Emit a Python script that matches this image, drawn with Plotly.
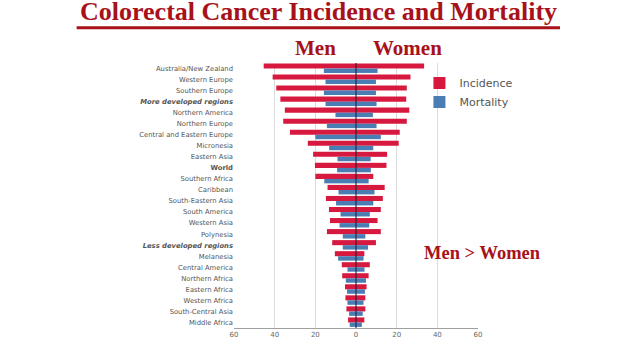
import plotly.graph_objects as go

regions = ["Australia/New Zealand", "Western Europe", "Southern Europe", "More developed regions",
           "Northern America", "Northern Europe", "Central and Eastern Europe", "Micronesia",
           "Eastern Asia", "World", "Southern Africa", "Caribbean", "South-Eastern Asia",
           "South America", "Western Asia", "Polynesia", "Less developed regions", "Melanesia",
           "Central America", "Northern Africa", "Eastern Africa", "Western Africa",
           "South-Central Asia", "Middle Africa"]
region_labels = ["Australia/New Zealand", "Western Europe", "Southern Europe",
                 "<b><i>More developed regions</i></b>",
                 "Northern America", "Northern Europe", "Central and Eastern Europe", "Micronesia",
                 "Eastern Asia", "<b>World</b>", "Southern Africa", "Caribbean", "South-Eastern Asia",
                 "South America", "Western Asia", "Polynesia", "<b><i>Less developed regions</i></b>",
                 "Melanesia", "Central America", "Northern Africa", "Eastern Africa", "Western Africa",
                 "South-Central Asia", "Middle Africa"]

incidence_men = [45.4, 41.0, 39.2, 37.2, 35.0, 35.8, 32.5, 23.7, 21.1, 20.2, 20.0, 14.0, 14.8,
                 13.3, 12.8, 14.3, 11.7, 10.4, 7.0, 6.8, 5.4, 5.2, 4.7, 3.9]
incidence_women = [33.5, 26.8, 25.0, 24.7, 26.2, 25.0, 21.5, 21.0, 15.3, 15.0, 8.5, 14.1, 13.2,
                   12.2, 10.6, 12.2, 9.8, 4.1, 6.8, 6.2, 5.2, 4.6, 4.6, 4.1]
mortality_men = [15.8, 15.0, 15.8, 15.0, 10.1, 14.3, 20.0, 13.2, 9.1, 9.3, 15.6, 8.6, 9.8,
                 7.6, 8.1, 6.5, 6.5, 8.8, 4.2, 5.0, 4.4, 4.2, 3.4, 3.1]
mortality_women = [10.6, 9.8, 9.8, 10.1, 8.3, 10.1, 12.2, 8.5, 7.2, 7.3, 6.2, 9.1, 8.5,
                   6.8, 6.5, 4.6, 5.9, 3.7, 4.2, 4.9, 4.4, 3.7, 3.3, 2.9]

tick_vals = [-60, -40, -20, 0, 20, 40, 60]
tick_text = ["60", "40", "20", "0", "20", "40", "60"]

RED = "#D7193F"
BLUE = "#4A7DB3"
DARKRED = "#A8111A"

fig = go.Figure()
fig.add_trace(go.Bar(y=regions, x=[-v for v in incidence_men], orientation="h",
                     marker=dict(color=RED, line=dict(width=0)), width=0.46, offset=-0.46,
                     name="Incidence", legendgroup="inc", showlegend=True))
fig.add_trace(go.Bar(y=regions, x=incidence_women, orientation="h",
                     marker=dict(color=RED, line=dict(width=0)), width=0.46, offset=-0.46,
                     name="Incidence", legendgroup="inc", showlegend=False))
fig.add_trace(go.Bar(y=regions, x=[-v for v in mortality_men], orientation="h",
                     marker=dict(color=BLUE, line=dict(width=0)), width=0.4, offset=0.0,
                     name="Mortality", legendgroup="mort", showlegend=True))
fig.add_trace(go.Bar(y=regions, x=mortality_women, orientation="h",
                     marker=dict(color=BLUE, line=dict(width=0)), width=0.4, offset=0.0,
                     name="Mortality", legendgroup="mort", showlegend=False))

fig.update_layout(
    width=638, height=359,
    margin=dict(l=234, r=160, t=63, b=31),
    barmode="overlay",
    plot_bgcolor="white", paper_bgcolor="white",
    showlegend=True,
    legend=dict(x=0.76, y=0.979, xanchor="left", yanchor="top", bgcolor="rgba(0,0,0,0)",
                font=dict(family="DejaVu Sans", size=11, color="#555555"),
                itemwidth=30, tracegroupgap=0),
    xaxis=dict(range=[-60, 60], tickvals=tick_vals, ticktext=tick_text,
               showgrid=True, gridcolor="#DCDCDC", gridwidth=1, zeroline=False,
               showline=True, linecolor="#A0A0A0", linewidth=1, ticks="",
               tickfont=dict(family="DejaVu Sans", size=7, color="#666666")),
    yaxis=dict(categoryorder="array", categoryarray=regions, autorange="reversed",
               tickvals=regions, ticktext=region_labels, range=[23.5, -0.5],
               showgrid=False, zeroline=False, showline=False, ticks="",
               tickfont=dict(family="DejaVu Sans", size=6.8, color="#555555")),
    shapes=[
        dict(type="line", xref="x", yref="paper", x0=0, x1=0, y0=0, y1=1,
             line=dict(color="#1B1B3A", width=1), layer="above"),
        dict(type="line", xref="paper", yref="paper", x0=-0.645, x1=1.336, y0=1.133, y1=1.133,
             line=dict(color=DARKRED, width=3), layer="above"),
    ],
    annotations=[
        dict(text="<b>Colorectal Cancer Incidence and Mortality</b>", xref="paper", yref="paper",
             x=0.346, y=1.133, xanchor="center", yanchor="bottom", showarrow=False,
             font=dict(family="Liberation Serif", size=26, color=DARKRED)),
        dict(text="<b>Men</b>", xref="paper", yref="paper", x=0.332, y=1.055,
             xanchor="center", yanchor="middle", showarrow=False,
             font=dict(family="Liberation Serif", size=21, color=DARKRED)),
        dict(text="<b>Women</b>", xref="paper", yref="paper", x=0.713, y=1.055,
             xanchor="center", yanchor="middle", showarrow=False,
             font=dict(family="Liberation Serif", size=21, color=DARKRED)),
        dict(text="<b>Men &gt; Women</b>", xref="paper", yref="paper", x=1.018, y=0.282,
             xanchor="center", yanchor="middle", showarrow=False,
             font=dict(family="Liberation Serif", size=18.5, color=DARKRED)),
    ],
)

fig.write_html("out.html", config={"displayModeBar": False},
               post_script="document.body.style.margin='0px';")
